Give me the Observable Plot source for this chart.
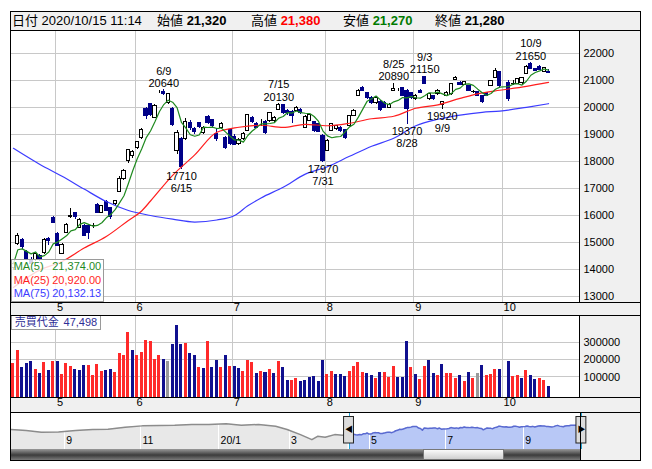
<!DOCTYPE html>
<html><head><meta charset="utf-8">
<script src="https://cdn.jsdelivr.net/npm/d3@7"></script>
<script src="https://cdn.jsdelivr.net/npm/@observablehq/plot@0.6"></script>
<style>
html,body{margin:0;padding:0;background:#fff;}
#root{position:relative;width:652px;height:469px;overflow:hidden;font-family:"Liberation Sans","Noto Sans CJK JP",sans-serif;font-size:12px;color:#000;}
.a{position:absolute;box-sizing:border-box;}
.g{background:#f0f0f0;}
.k{background:#000;}
#root svg{position:absolute;left:0;}
.hd{position:absolute;top:13px;font-size:13px;line-height:15px;white-space:nowrap;}
.hd b{font-weight:bold;}
</style></head><body><div id="root"></div>
<script>
// ---------------- data ----------------
const days = ["4/16","4/17","4/20","4/21","4/22","4/23","4/24","4/27","4/28","4/30",
"5/1","5/7","5/8","5/11","5/12","5/13","5/14","5/15","5/18","5/19","5/20","5/21","5/22","5/25","5/26","5/27","5/28","5/29",
"6/1","6/2","6/3","6/4","6/5","6/8","6/9","6/10","6/11","6/12","6/15","6/16","6/17","6/18","6/19","6/22","6/23","6/24","6/25","6/26","6/29","6/30",
"7/1","7/2","7/3","7/6","7/7","7/8","7/9","7/10","7/13","7/14","7/15","7/16","7/17","7/20","7/21","7/22","7/27","7/28","7/29","7/30","7/31",
"8/3","8/4","8/5","8/6","8/7","8/11","8/12","8/13","8/14","8/17","8/18","8/19","8/20","8/21","8/24","8/25","8/26","8/27","8/28","8/31",
"9/1","9/2","9/3","9/4","9/7","9/8","9/9","9/10","9/11","9/14","9/15","9/16","9/17","9/18","9/23","9/24","9/25","9/28","9/29","9/30",
"10/1","10/2","10/5","10/6","10/7","10/8","10/9","10/12","10/13","10/14","10/15"];

const open = [14050,14950,15080,14640,14350,14350,14500,14610,15130,15890,
15320,14580,15350,15920,16080,15520,15620,15620,15600,16390,
16090,16500,16260,16400,16880,17350,18020,18180,18480,18860,
19930,20120,19620,20560,20570,20150,19930,18370,18830,18820,
19400,19190,19400,19030,19650,19520,19010,19230,18880,19160,
18890,18650,18820,19130,19600,19380,19470,19470,19500,19500,
19900,20090,19870,19840,19870,19900,19230,19500,19440,19380,
18950,18390,19130,19200,19250,19160,19320,19690,20420,20730,
20510,20360,20140,20210,20150,19990,20600,20630,20730,20610,
20540,20300,20610,21125,20300,20420,20480,20090,20423,20485,
21000,20915,20840,20790,20560,20560,20420,20540,20790,21080,
21290,null,20910,20850,20855,20880,21225,21620,21400,21495,
21310,21320];
const high = [14250,15330,15130,14700,14420,14600,14560,15130,15170,15950,
15380,14950,15700,16240,16100,15870,15650,15650,15700,16420,
16350,16550,16300,16560,17420,17700,18450,18400,18750,19230,
20000,20150,20100,20620,20640,20520,20000,19150,18880,19600,
19500,19250,19450,19300,19700,19550,19200,19420,18920,19200,
19000,18850,19050,19750,19650,19420,19550,19500,19800,19650,
20130,20100,19900,19870,20020,19950,19680,19750,19480,19400,
18980,18800,19400,19320,19280,19180,19700,19900,20650,20780,
20540,20400,20380,20250,20200,20150,20890,20700,20750,20650,
20560,20480,20650,21150,20520,20450,20650,20230,20580,20880,
21130,20950,20960,20820,20620,20600,20450,20560,21000,21450,
21330,null,20980,20990,21080,21120,21530,21650,21450,21530,
21480,21380];
const low = [13950,14880,14750,14350,14150,14300,14280,14550,14900,15700,
14860,14560,15330,15900,15850,15500,15200,15100,15520,16060,
16050,16150,15850,16380,16850,17300,17900,18100,18450,18820,
19550,19650,19580,20520,20450,20100,19300,18250,17710,18780,
19150,19000,19200,19000,19350,19250,18750,19180,18450,18600,
18600,18580,18780,19100,19400,19200,19300,18980,19450,19450,
19880,19720,19700,19400,19850,19750,19200,19480,19080,19050,
17970,18350,19100,19150,19050,18800,19300,19650,20400,20600,
20300,20100,20100,19850,19950,19950,20580,20580,20400,19370,
20300,20250,20500,20850,20250,20250,20450,19920,20400,20450,
20980,20800,20800,20580,20520,20380,20150,20400,20770,21050,
20750,null,20200,20790,20830,20860,21200,21380,21330,21350,
21290,21270];
const close = [14200,15250,14820,14390,14200,14550,14330,15070,15040,15720,
14880,14910,15650,15970,15940,15840,15250,15330,15620,16090,
16330,16170,15930,16520,17350,17650,18430,18350,18700,19160,
19680,19720,20050,20560,20490,20490,19350,19050,17800,19460,
19250,19070,19280,19250,19400,19310,18820,19380,18490,18640,
18620,18780,19010,19720,19470,19250,19470,19030,19770,19620,
20090,19770,19770,19680,19990,19800,19650,19720,19130,19070,
18020,18760,19380,19300,19130,18880,19680,19870,20610,20610,
20360,20140,20360,19900,19980,20100,20660,20630,20420,19930,
20360,20420,20545,20877,20480,20300,20610,20210,20545,20855,
21100,20840,20940,20600,20570,20400,20180,20420,20980,21350,
20790,null,20300,20860,21060,21100,21495,21410,21360,21370,
21450,21280];

// trading value (売買代金)
const volume = [177000,250000,154000,177000,187000,141000,120000,181000,135000,187000,
187000,113000,177000,158000,141000,135000,164000,164000,107000,170000,
130000,135000,141000,124000,232000,221000,353000,250000,221000,238000,
312000,301000,202000,221000,202000,187000,284000,393000,284000,290000,
232000,221000,153000,147000,301000,153000,193000,153000,221000,158000,
158000,147000,130000,196000,181000,118000,130000,124000,141000,118000,
187000,153000,78000,78000,90000,73000,78000,96000,101000,73000,
193000,116000,130000,113000,113000,101000,130000,158000,181000,124000,
118000,107000,90000,124000,124000,97000,158000,96000,96000,301000,
153000,113000,84000,158000,193000,118000,107000,170000,118000,118000,
90000,107000,73000,124000,90000,120000,164000,107000,113000,141000,
141000,null,187000,101000,107000,90000,135000,107000,84000,90000,
78000,47498];
// change vs previous day: u = up, d = down, n = unchanged
const volDir = ["u","u","d","d","d","u","d","u","d","u",
"d","u","u","u","d","d","d","u","u","u",
"u","d","d","u","u","u","u","d","u","u",
"u","u","u","u","d","n","d","d","d","u",
"d","d","u","d","u","d","d","u","d","u",
"d","d","u","u","u","d","u","d","u","d",
"u","d","d","u","u","d","d","d","d","d",
"d","u","u","d","d","d","u","u","u","u",
"d","d","u","d","u","u","u","d","d","d",
"u","d","u","u","d","d","u","d","u","u",
"u","d","u","d","u","n","d","u","u","u",
"d",null,"d","u","u","d","u","d","d","u",
"u","d"];

// moving averages
const ma25Days = ["4/16","4/24","5/7","5/14","5/21","5/28","6/2","6/4","6/11","6/18","6/25","7/2","7/9","7/16","7/27","8/3","8/11","8/18","8/25","9/1","9/8","9/15","9/24","9/30","10/8","10/15"];
const ma25Vals = [13330,13980,14290,14790,15215,15810,16160,16530,17480,18237,19075,19260,19334,19252,19370,19315,19407,19574,19666,19962,20090,20330,20534,20630,20774,20920];
const ma75Days = ["4/16","4/24","5/7","5/14","5/21","5/28","6/4","6/11","6/18","6/25","7/1","7/6","7/9","7/16","7/27","8/3","8/11","8/18","8/25","9/1","9/8","9/15","9/24","9/30","10/8","10/15"];
const ma75Vals = [18480,17882,17446,16970,16508,16176,15992,15855,15751,15825,15992,16350,16642,17037,17524,17800,18185,18558,18853,19315,19555,19710,19814,19860,19999,20132];
const maNames = ["MA(5)","MA(25)","MA(75)"];
const maLast = [21374.00,20920.00,20132.13];

// high / low annotations
const markDays = ["6/9","6/15","7/15","7/31","8/25","8/28","9/3","9/9","10/9"];
const markVals = [20640,17710,20130,17970,20890,19370,21150,19920,21650];
const markSide = ["high","low","high","low","high","low","high","low","high"];

const priceTicks = [13000,14000,15000,16000,17000,18000,19000,20000,21000,22000];
const volTicks = [100000,200000,300000];

// navigator history (trading-day offset from 4/16, value)
const navDay = [-178,-170,-162,-153,-144,-135,-127,-118,-109,-100,-92,-83,-74,-65,-57,-48,-39,-33,-26,-20,-17,-13,-8,-4,-1];
const navVal = [18270,17515,16235,16460,17515,18270,18490,20000,20980,21280,21500,22030,22030,22485,21500,22030,20750,18270,14500,10740,13220,12470,14500,13980,14500];
const navTickDay = [-150,-110,-69,-32,10,50,91];
const navTickText = ["9","11","20/1","3","5","7","9"];

const stamp = "2020/10/15 11:14";

// ---------------- build ----------------
const FONT = '"Liberation Sans","Noto Sans CJK JP",sans-serif';
const NAVY = "#000088", GREEN = "#1f8a1f", RED = "#ff1e1e", BLUE = "#3c3cff", GRID = "#c8c8c8";
const root = document.getElementById("root");
function box(x, y, w, h, cls, style) {
  const d = document.createElement("div");
  d.className = "a " + (cls || "");
  Object.assign(d.style, {left: x + "px", top: y + "px", width: w + "px", height: h + "px"}, style || {});
  root.appendChild(d);
  return d;
}
function place(svg, top) { svg.style.top = top + "px"; root.appendChild(svg); }

const candles = days.map((d, i) => ({i, day: d, open: open[i], high: high[i], low: low[i], close: close[i]}))
  .filter(d => d.open != null);
const vols = days.map((d, i) => ({i, v: volume[i], dir: volDir[i]})).filter(d => d.v != null);
const monthStarts = days.map((d, i) => ({i, m: d.split("/")[0]}))
  .filter((d, i) => i > 0 && d.m !== days[i - 1].split("/")[0]);
const ma25 = ma25Days.map((d, j) => ({i: days.indexOf(d), v: ma25Vals[j]}));
const ma75 = ma75Days.map((d, j) => ({i: days.indexOf(d), v: ma75Vals[j]}));
const ann = markDays.map((d, j) => ({
  i: days.indexOf(d), v: markVals[j], side: markSide[j],
  label: markSide[j] === "high" ? d + "\n" + markVals[j] : markVals[j] + "\n" + d
}));
const up = d => d.close >= d.open;
const fmt = v => v.toLocaleString("en-US");

// backgrounds
box(10, 11, 631, 19, "g");
box(579, 30, 62, 272, "g");
box(10, 301.5, 631, 13.5, "g");
box(579, 315, 62, 82.5, "g");
box(10, 397.5, 631, 14.5, "g");
box(580, 412, 61, 48, "g");

const xDom = [-0.5, 128];
const common = {width: 652, marginLeft: 10.7, marginRight: 73,
  style: {background: "transparent", fontFamily: FONT, fontSize: "11px", overflow: "visible", color: "#000"}};

// price panel
const price = Plot.plot({
  ...common, height: 315, marginTop: 30, marginBottom: 13.5,
  x: {domain: xDom, axis: null},
  y: {domain: [12790, 22842], axis: null},
  marks: [
    Plot.ruleY(priceTicks, {y: d => d, stroke: GRID, shapeRendering: "crispEdges"}),
    Plot.ruleX(monthStarts, {x: d => d.i - 0.5, stroke: GRID, shapeRendering: "crispEdges"}),
    Plot.ruleX(candles, {x: "i", y1: "low", y2: "high", stroke: d => up(d) ? "#000" : NAVY, shapeRendering: "crispEdges"}),
    Plot.rect(candles, {x1: d => d.i - 0.36, x2: d => d.i + 0.36, y1: "open", y2: "close",
      fill: d => up(d) ? "#fff" : NAVY, stroke: d => up(d) ? "#000" : NAVY, shapeRendering: "crispEdges"}),
    Plot.line(ma75, {x: "i", y: "v", stroke: BLUE, strokeWidth: 1.2, curve: "monotone-x"}),
    Plot.line(ma25, {x: "i", y: "v", stroke: RED, strokeWidth: 1.2, curve: "monotone-x"}),
    Plot.lineY(candles, Plot.windowY({k: 5, anchor: "end"}, {x: "i", y: "close", stroke: GREEN, strokeWidth: 1.2})),
    Plot.text(ann.filter(a => a.side === "high"), {x: "i", y: "v", text: "label", lineAnchor: "bottom", dy: -3, lineHeight: 1.12, fontSize: 11}),
    Plot.text(ann.filter(a => a.side === "low"), {x: "i", y: "v", text: "label", lineAnchor: "top", dy: 2, lineHeight: 1.12, fontSize: 11}),
    Plot.text(priceTicks, {y: d => d, frameAnchor: "right", dx: 4, textAnchor: "start", text: d => String(d), fontSize: 11}),
    Plot.text(monthStarts, {x: d => d.i - 0.5, frameAnchor: "bottom", dy: 8.5, dx: 1.5, textAnchor: "start", text: "m", fontSize: 11})
  ]
});
place(price, 0);

// volume panel
const VMIN = -20570, VMAX = 452570;
const volPlot = Plot.plot({
  ...common, height: 98, marginTop: 1, marginBottom: 14.5,
  x: {domain: xDom, axis: null},
  y: {domain: [VMIN, VMAX], axis: null},
  marks: [
    Plot.ruleY(volTicks, {y: d => d, stroke: GRID, shapeRendering: "crispEdges"}),
    Plot.ruleX(monthStarts, {x: d => d.i - 0.5, stroke: GRID, shapeRendering: "crispEdges"}),
    Plot.rect(vols, {x1: d => d.i - 0.34, x2: d => d.i + 0.34, y1: () => VMIN, y2: "v",
      fill: d => d.dir === "u" ? "#ff2a2a" : d.dir === "d" ? "#10108f" : "#9a9a9a", shapeRendering: "crispEdges"}),
    Plot.text(volTicks, {y: d => d, frameAnchor: "right", dx: 4, textAnchor: "start", text: d => String(d), fontSize: 11}),
    Plot.text(monthStarts, {x: d => d.i - 0.5, frameAnchor: "bottom", dy: 8, dx: 1.5, textAnchor: "start", text: "m", fontSize: 11})
  ]
});
place(volPlot, 314);

// navigator
const NMIN = 3434, NMAX = 30540;
const hist = navDay.map((d, j) => ({i: d, v: navVal[j]}));
const sel = candles.map(d => ({i: d.i, v: d.close}));
const navTicks = navTickDay.map((d, j) => ({i: d, t: navTickText[j]}));
const selEdges = [-0.5, days.length - 0.5];
const nav = Plot.plot({
  width: 652, height: 37, marginTop: 0.5, marginBottom: 0, marginLeft: 10.7, marginRight: 71.1,
  style: {background: "transparent", fontFamily: FONT, fontSize: "10.5px", overflow: "visible"},
  x: {domain: [-177.85, 121.5], axis: null},
  y: {domain: [NMIN, NMAX], axis: null},
  marks: [
    Plot.areaY(hist, {x: "i", y1: () => NMIN, y2: "v", fill: "#e8e8e8"}),
    Plot.areaY(sel, {x: "i", y1: () => NMIN, y2: "v", fill: "#b8c8f6"}),
    Plot.ruleX(navTicks, {x: "i", stroke: "#fff", shapeRendering: "crispEdges"}),
    Plot.line(hist, {x: "i", y: "v", stroke: "#8c8c8c"}),
    Plot.line(sel, {x: "i", y: "v", stroke: "#5a6ad0"}),
    Plot.text(navTicks, {x: "i", text: "t", frameAnchor: "bottom", dy: -6, dx: 2, textAnchor: "start", fontSize: 10.5}),
    Plot.ruleX(selEdges, {x: d => d, stroke: "#27a6d6", shapeRendering: "crispEdges"}),
    Plot.rect(selEdges, {x1: d => d - 2.6, x2: d => d + 2.6, insetTop: 4, insetBottom: 6, fill: "#dcdcdc", stroke: "#222"}),
    Plot.text(selEdges, {x: d => d, text: (d, j) => j === 0 ? "◀" : "▶", frameAnchor: "middle", dy: -2, fontSize: 8, fill: "#000"})
  ]
});
place(nav, 412);

// scrollbar
box(10.7, 449, 569.5, 11, "", {background: "linear-gradient(to bottom,#9a9a9a,#3c3c3c 55%,#7a7a7a)"});
box(423, 449, 81, 11, "", {background: "linear-gradient(to bottom,#fafafa,#cfcfcf)", border: "1px solid #777"});

// MA legend box
const lg = box(10.7, 259, 93.5, 42.5, "", {background: "rgba(255,255,255,0.82)", border: "1px solid #9a9a9a", fontFamily: FONT, fontSize: "11px", lineHeight: "13.6px", padding: "0 2px 0 2px"});
[GREEN, RED, BLUE].forEach((c, j) => {
  const r = document.createElement("div");
  r.style.cssText = "display:flex;justify-content:space-between;color:" + c;
  r.innerHTML = "<span>" + maNames[j] + "</span><span>" + maLast[j].toLocaleString("en-US", {minimumFractionDigits: 2, maximumFractionDigits: 2}) + "</span>";
  lg.appendChild(r);
});
// volume label box
const vb = box(10.7, 315, 90.5, 15, "", {background: "#fff", border: "1px solid #9a9a9a", color: "#2e2e96", fontFamily: FONT, fontSize: "11px", lineHeight: "13px", padding: "0 3px", whiteSpace: "nowrap", display: "flex", justifyContent: "space-between"});
vb.innerHTML = "<span>売買代金</span><span>" + fmt(volume[volume.length - 1]) + "</span>";

// header
const last = candles[candles.length - 1];
const hd = [
  [12, "日付 " + stamp],
  [157, "始値 <b>" + fmt(last.open) + "</b>"],
  [251, "高値 <b style='color:#ff0000'>" + fmt(last.high) + "</b>"],
  [343, "安値 <b style='color:#007a00'>" + fmt(last.low) + "</b>"],
  [435, "終値 <b>" + fmt(last.close) + "</b>"]
];
hd.forEach(([x, h]) => { const s = document.createElement("div"); s.className = "hd"; s.style.left = x + "px"; s.innerHTML = h; root.appendChild(s); });

// frame lines
box(10, 11, 631, 1, "k");
box(10, 29.5, 631, 1, "k");
box(10, 301.5, 631, 1, "k");
box(10, 314.5, 631, 1, "k");
box(10, 397, 631, 1, "k");
box(10, 411.5, 631, 1, "k");
box(10, 459.5, 631, 1, "k");
box(10, 11, 1, 449.5, "k");
box(640, 11, 1, 449.5, "k");
box(579, 29.5, 1, 272, "k");
box(579, 314.5, 1, 83, "k");
box(580, 411.5, 1, 48.5, "k");
</script></body></html>
